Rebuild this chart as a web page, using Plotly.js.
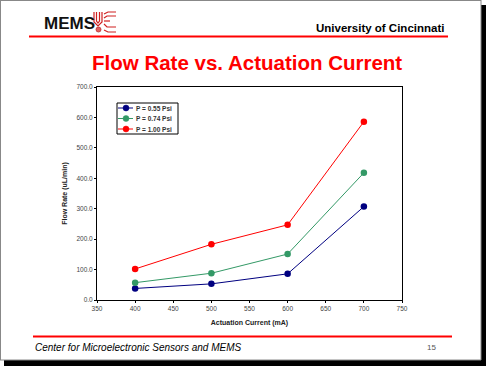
<!DOCTYPE html>
<html><head><meta charset="utf-8">
<script src="https://cdn.plot.ly/plotly-3.0.1.min.js"></script>
<style>html,body{margin:0;padding:0;background:#fff;overflow:hidden}</style>
</head><body><div id="chart" style="width:486px;height:366px"></div>
<script>
const currents = [400, 500, 600, 700];
const seriesNames = ['P = 0.55 Psi', 'P = 0.74 Psi', 'P = 1.00 Psi'];
const flow055 = [38, 53, 86, 307];
const flow074 = [57, 88, 151, 418];
const flow100 = [102, 183, 247, 586];
const yTicks = [0, 100, 200, 300, 400, 500, 600, 700];
const xTicks = [350, 400, 450, 500, 550, 600, 650, 700, 750];

const colors = ['#000080', '#339966', '#FF0000'];
const series = [flow055, flow074, flow100];

// plot area in pixels
const L = 97, R = 402, T = 87, B = 300, W = 486, H = 366;
const px = x => (x - L) / (R - L);
const py = y => (B - y) / (B - T);

const traces = series.map((ys, i) => ({
  x: currents, y: ys, name: seriesNames[i], type: 'scatter', mode: 'lines+markers',
  line: {color: colors[i], width: 1},
  marker: {color: colors[i], size: 6.5}
}));

function rect(x0, y0, x1, y1, fill, border) {
  return {type: 'rect', xref: 'paper', yref: 'paper', x0: px(x0), x1: px(x1), y0: py(y0), y1: py(y1),
    fillcolor: fill, line: border ? {color: border, width: 1} : {width: 0}, layer: border ? 'above' : 'below'};
}
function line(x0, y0, x1, y1, color, w) {
  return {type: 'line', xref: 'paper', yref: 'paper', x0: px(x0), x1: px(x1), y0: py(y0), y1: py(y1),
    line: {color: color, width: w}};
}
function path(pts, color, w) {
  const d = pts.map((p, i) => (i ? 'L' : 'M') + px(p[0]) + ',' + py(p[1])).join(' ');
  return {type: 'path', xref: 'paper', yref: 'paper', path: d, line: {color: color, width: w}};
}
function circle(cx, cy, r, color) {
  return {type: 'circle', xref: 'paper', yref: 'paper', x0: px(cx - r), x1: px(cx + r), y0: py(cy + r), y1: py(cy - r),
    fillcolor: color, line: {color: color, width: 0.5}};
}

const shapes = [
  // page border & shadow
  rect(481, 5, 486, 366, '#000'),
  rect(4, 360, 486, 366, '#000'),
  line(0, 0.5, 481, 0.5, '#888', 1),
  line(0.5, 0, 0.5, 360, '#888', 1),
  line(481, 0, 481, 360, '#888', 1),
  line(0, 360, 481, 360, '#888', 1),
  // header and footer rules
  line(29, 36.5, 448, 36.5, '#FF0000', 2),
  line(33, 336.5, 452, 336.5, '#FF0000', 2),
  // UC emblem (simplified)
  path([[94,12],[94,22],[98,26],[102,22],[102,12]], '#D02020', 1.2),
  path([[96.5,12],[96.5,21],[98,23],[99.5,21],[99.5,12]], '#D02020', 1.2),
  path([[104,14],[108,12],[116,12]], '#D02020', 1.2),
  path([[104,18],[107,16],[116,16]], '#D02020', 1.2),
  path([[104,24],[107,27],[116,27]], '#D02020', 1.2),
  path([[104,30],[108,32],[116,32]], '#D02020', 1.2),
  path([[104,21],[110,21]], '#D02020', 1.2),
  {type: 'circle', xref: 'paper', yref: 'paper', x0: px(96), x1: px(101), y0: py(32), y1: py(27),
    fillcolor: '#E06060', line: {color: '#C03030', width: 0.8}},
  // legend box
  rect(117, 103, 178, 134, '#fff', '#000')
];

const ann = (text, x, y, opts) => Object.assign({text: text, xref: 'paper', yref: 'paper',
  x: px(x), y: py(y), showarrow: false}, opts);

const annotations = [
  ann('<b>MEMS</b>', 69, 23, {font: {family: 'Liberation Sans, Arial', size: 17, color: '#111'}, xanchor: 'center', yanchor: 'middle'}),
  ann('<b>University of Cincinnati</b>', 446, 28, {font: {family: 'Liberation Sans, Arial', size: 11.5, color: '#000'}, xanchor: 'right', yanchor: 'middle'}),
  ann('<b>Flow Rate vs. Actuation Current</b>', 247, 63, {font: {family: 'Liberation Sans, Arial', size: 20.5, color: '#FF0000'}, xanchor: 'center', yanchor: 'middle'}),
  ann('<i>Center for Microelectronic Sensors and MEMS</i>', 33, 347, {font: {family: 'Liberation Sans, Arial', size: 10, color: '#000'}, xanchor: 'left', yanchor: 'middle'}),
  ann('15', 438, 347, {font: {family: 'Liberation Sans, Arial', size: 8, color: '#555'}, xanchor: 'right', yanchor: 'middle'})
];

// manual compact legend
const legRows = [108, 118.5, 129];
seriesNames.forEach((name, i) => {
  shapes.push(line(118, legRows[i], 133, legRows[i], colors[i], 1));
  shapes.push(circle(126, legRows[i], 3, colors[i]));
  annotations.push(ann('<b>' + name + '</b>', 134, legRows[i], {font: {family: 'Liberation Sans, Arial', size: 6.5, color: '#333'},
    xanchor: 'left', yanchor: 'middle'}));
});

const tickFont = {family: 'Liberation Sans, Arial', size: 6.5, color: '#444'};
const layout = {
  width: W, height: H,
  margin: {l: L, r: W - R, t: T, b: H - B, pad: 0},
  paper_bgcolor: '#fff', plot_bgcolor: '#fff',
  showlegend: false,
  xaxis: {range: [350, 750], tickvals: xTicks, ticktext: xTicks.map(String), showgrid: false, zeroline: false,
    showline: true, linecolor: '#000', linewidth: 1, mirror: true, ticks: 'outside', ticklen: 2, tickcolor: '#000',
    tickfont: tickFont,
    title: {text: '<b>Actuation Current (mA)</b>', font: {family: 'Liberation Sans, Arial', size: 7, color: '#222'}, standoff: 9}},
  yaxis: {range: [0, 700], tickvals: yTicks, ticktext: yTicks.map(v => v.toFixed(1)), showgrid: false, zeroline: false,
    showline: true, linecolor: '#000', linewidth: 1, mirror: true, ticks: 'outside', ticklen: 2, tickcolor: '#000',
    tickfont: tickFont,
    title: {text: '<b>Flow Rate (uL/min)</b>', font: {family: 'Liberation Sans, Arial', size: 7, color: '#222'}, standoff: 7}},
  shapes: shapes,
  annotations: annotations
};

Plotly.newPlot('chart', traces, layout, {displayModeBar: false, staticPlot: true});
</script></body></html>
